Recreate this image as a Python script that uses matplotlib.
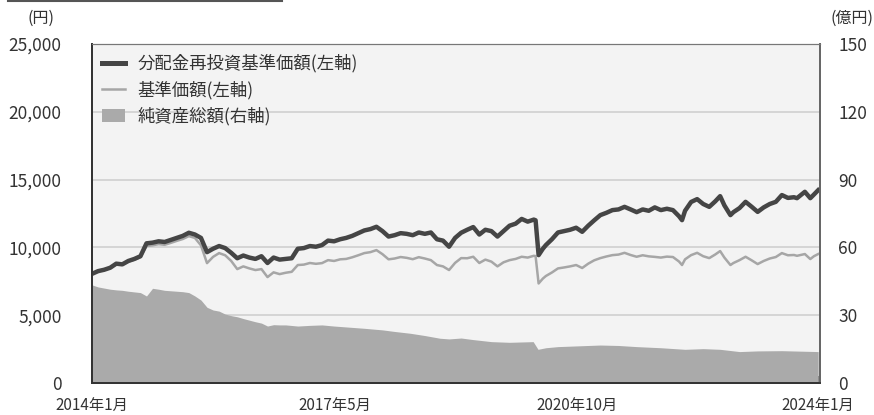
import matplotlib
matplotlib.use("Agg")
import matplotlib.pyplot as plt
from matplotlib.lines import Line2D
from matplotlib.patches import Patch

plt.rcParams['font.family'] = ['Noto Sans CJK JP', 'DejaVu Sans']

# months since 2014-01
months = [0, 1, 2, 3, 4, 5, 6, 7, 8, 9, 10, 11, 12, 13, 14, 15, 16, 17, 18, 19,
          20, 21, 22, 23, 24, 25, 26, 27, 28, 29, 30, 31, 32, 33, 34, 35, 36, 37, 38, 39,
          40, 41, 42, 43, 44, 45, 46, 47, 48, 49, 50, 51, 52, 53, 54, 55, 56, 57, 58, 59,
          60, 61, 62, 63, 64, 65, 66, 67, 68, 69, 70, 71, 72, 73, 73.3, 73.8, 74.5, 75, 76, 77,
          78, 79, 80, 81, 82, 83, 84, 85, 86, 87, 88, 89, 90, 91, 92, 93, 94, 95, 96, 97,
          97.5, 98, 99, 100, 101, 102, 103, 103.8, 104.5, 105.5, 106, 107, 108, 109, 110, 111, 112, 113, 114, 115,
          116, 116.5, 117.8, 118.7, 119.3, 120]

# 分配金再投資基準価額 (円)
nav_reinvest = [8050, 8250, 8350, 8500, 8800, 8750, 9000, 9150, 9350, 10300, 10350, 10450, 10400, 10550, 10700, 10850, 11080, 10950, 10700, 9650,
                9900, 10100, 9950, 9600, 9200, 9400, 9250, 9150, 9350, 8850, 9250, 9100, 9150, 9200, 9900, 9950, 10100, 10050, 10170, 10500,
                10450, 10600, 10700, 10850, 11050, 11250, 11350, 11520, 11200, 10800, 10900, 11050, 11000, 10900, 11100, 11000, 11100, 10600, 10500, 10050,
                10700, 11080, 11300, 11500, 10950, 11300, 11200, 10800, 11200, 11600, 11750, 12100, 11900, 12050, 12000, 9430, 9900, 10170, 10600, 11100,
                11200, 11300, 11450, 11150, 11600, 12000, 12380, 12550, 12750, 12800, 12990, 12800, 12600, 12800, 12700, 12950, 12750, 12850, 12750, 12300,
                12010, 12700, 13350, 13560, 13200, 12990, 13400, 13780, 13100, 12380, 12600, 12900, 13360, 13000, 12620, 12950, 13200, 13360, 13860, 13650,
                13700, 13630, 14100, 13630, 13900, 14220]

# 基準価額 (円)
nav = [8050, 8240, 8330, 8480, 8770, 8710, 8950, 9090, 9280, 10100, 10150, 10240, 10190, 10330, 10480, 10620, 10830, 10700, 10150, 8840,
       9300, 9580, 9420, 9000, 8400, 8600, 8450, 8330, 8400, 7810, 8160, 8030, 8130, 8200, 8700, 8730, 8850, 8790, 8840, 9060,
       9000, 9120, 9150, 9270, 9420, 9580, 9650, 9800, 9500, 9120, 9180, 9290, 9230, 9130, 9280, 9180, 9060, 8700, 8600, 8330,
       8860, 9210, 9200, 9310, 8850, 9100, 8950, 8600, 8900, 9060, 9150, 9310, 9250, 9380, 9360, 7340, 7700, 7890, 8150, 8450,
       8520, 8600, 8700, 8480, 8800, 9050, 9210, 9330, 9430, 9470, 9600, 9440, 9310, 9420, 9340, 9300, 9250, 9320, 9290, 8960,
       8700, 9120, 9430, 9600, 9350, 9210, 9480, 9730, 9250, 8700, 8850, 9060, 9310, 9050, 8770, 9000, 9180, 9290, 9580, 9420,
       9440, 9380, 9510, 9140, 9350, 9510]

# 純資産総額 (億円)
asset_months = [0, 1, 2, 3, 4, 5, 6, 7, 8, 9, 10, 11, 12, 13, 14, 15, 16, 17, 18, 19,
                20, 21, 22, 23, 24, 25, 26, 27, 28, 29, 30, 31, 32, 34, 36, 38, 40, 42, 45, 48,
                50, 52.6, 55, 57.5, 59, 61, 63, 66, 69, 72.9, 73.7, 75, 77, 80, 84, 87, 90, 94, 98, 101,
                103.8, 107, 110, 114, 117, 120]
assets = [43.4, 42.5, 42.0, 41.5, 41.2, 41.0, 40.6, 40.3, 40.0, 38.5, 41.9, 41.5, 41.0, 40.8, 40.6, 40.4, 40.0, 38.5, 36.7, 33.5,
          32.3, 31.8, 30.5, 29.8, 29.3, 28.5, 27.8, 27.1, 26.5, 25.2, 25.8, 25.7, 25.7, 25.2, 25.5, 25.7, 25.2, 24.8, 24.2, 23.5,
          22.8, 22.0, 21.0, 19.8, 19.5, 19.9, 19.2, 18.3, 18.0, 18.3, 14.9, 15.6, 16.1, 16.4, 16.8, 16.6, 16.1, 15.6, 14.9, 15.2,
          14.9, 13.9, 14.2, 14.3, 14.1, 13.9]

tick_pos = [0, 40.05, 80.2, 120]
tick_labels = ["2014年1月", "2017年5月", "2020年10月", "2024年1月"]

txt = "#333333"

fig = plt.figure(figsize=(8.74, 4.15), dpi=100)
ax2 = fig.add_axes([0.1053, 0.0771, 0.8329, 0.8169])
ax = ax2.twinx()
ax.set_zorder(ax2.get_zorder() + 1)
ax.patch.set_visible(False)

# right axis: net assets area + grid
ax2.set_facecolor("#f3f3f3")
ax2.fill_between(asset_months, assets, 0, color="#aaaaaa", lw=0)
ax2.set_ylim(0, 150)
ax2.set_yticks([0, 30, 60, 90, 120, 150])
ax2.grid(axis="y", color="#cfcfcf", lw=1.2)
ax2.set_axisbelow(True)
ax2.yaxis.tick_right()
ax2.yaxis.set_label_position("right")

# left axis: price lines
ax.plot(months, nav, color="#a6a6a6", lw=1.8)
ax.plot(months, nav_reinvest, color="#454545", lw=3.2)
ax.set_ylim(0, 25000)
ax.set_yticks([0, 5000, 10000, 15000, 20000, 25000])
ax.set_yticklabels(["0", "5,000", "10,000", "15,000", "20,000", "25,000"])
ax.yaxis.tick_left()

ax2.set_xlim(0, 120.3)
ax2.set_xticks(tick_pos)
ax2.set_xticklabels(tick_labels)

ax.tick_params(axis="y", length=0, pad=22, labelsize=12.5, labelcolor=txt)
ax2.tick_params(axis="y", length=0, pad=13, labelsize=12.5, labelcolor=txt)
ax2.tick_params(axis="x", direction="in", length=5, width=1.2, color="#333333",
                pad=10, labelsize=11, labelcolor=txt)
ax.tick_params(axis="x", length=0)

for a in (ax, ax2):
    a.spines["left"].set_color("#333333")
    a.spines["bottom"].set_color("#333333")
    a.spines["right"].set_color("#666666")
    a.spines["top"].set_color("#777777")
    a.spines["left"].set_linewidth(1.3)
    a.spines["bottom"].set_linewidth(1.3)
    a.spines["right"].set_linewidth(1.3)

fig.text(0.047, 0.955, "(円)", fontsize=11.5, color=txt, ha="center", va="center")
fig.text(0.975, 0.955, "(億円)", fontsize=11.5, color=txt, ha="center", va="center")

handles = [Line2D([], [], color="#454545", lw=3.6),
           Line2D([], [], color="#a6a6a6", lw=1.8),
           Patch(facecolor="#aaaaaa", edgecolor="none")]
labels = ["分配金再投資基準価額(左軸)", "基準価額(左軸)", "純資産総額(右軸)"]
ax.legend(handles, labels, loc="upper left", bbox_to_anchor=(0.0, 1.0), frameon=False,
          fontsize=12.5, labelcolor=txt, handlelength=1.3, handletextpad=0.7,
          labelspacing=0.45, borderpad=0.4, borderaxespad=0.2)

fig.add_artist(Line2D([0.009, 0.323], [0.997, 0.997], color="#555555", lw=1.5,
                      transform=fig.transFigure))

fig.savefig("out.png", dpi=100)
